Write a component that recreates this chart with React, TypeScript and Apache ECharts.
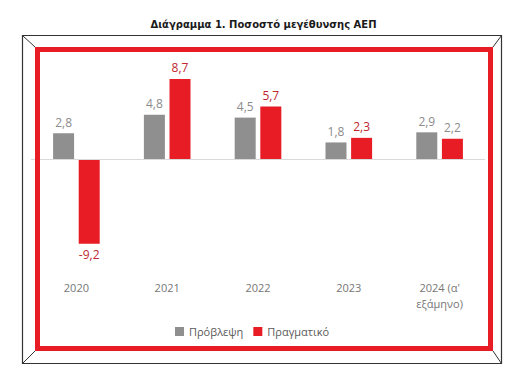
import React, { useEffect, useRef } from "react";
import * as echarts from "echarts";

const categories = ["2020", "2021", "2022", "2023", "2024 (α'\nεξάμηνο)"];
const forecast = [2.8, 4.8, 4.5, 1.8, 2.9];
const actual = [-9.2, 8.7, 5.7, 2.3, 2.2];
const actualLabelColors = ["#c0262d", "#c0262d", "#c0262d", "#c0262d", "#8c8c8c"];
const seriesNames = ["Πρόβλεψη", "Πραγματικό"];
const titleText = "Διάγραμμα 1. Ποσοστό μεγέθυνσης ΑΕΠ";

const fmt = (v: number) => String(v).replace(".", ",");

export default function App() {
  const ref = useRef<HTMLDivElement>(null);
  useEffect(() => {
    if (!ref.current) return;
    const chart = echarts.init(ref.current, null, { renderer: "svg" });
    const font = "'Open Sans', 'Noto Sans', sans-serif";
    chart.setOption({
      animation: false,
      backgroundColor: "#ffffff",
      title: {
        text: titleText,
        left: "center",
        top: 14,
        textStyle: { fontFamily: "'DejaVu Sans', sans-serif", fontWeight: "bold", fontSize: 10, color: "#1a1a1a" },
      },
      legend: {
        data: seriesNames,
        left: 170,
        top: 321,
        itemWidth: 9,
        itemHeight: 9,
        itemGap: 10,
        icon: "rect",
        textStyle: { fontFamily: font, fontSize: 11, color: "#595959" },
      },
      grid: { left: 31, right: 42, top: 67, bottom: 125, containLabel: false },
      xAxis: {
        type: "category",
        data: categories,
        axisLine: { show: false, onZero: false },
        axisTick: { show: false },
        axisLabel: { margin: 28, fontFamily: font, fontSize: 11, color: "#767676", lineHeight: 16 },
      },
      yAxis: {
        type: "value",
        min: -10,
        max: 10,
        show: false,
        splitLine: { show: false },
      },
      series: [
        {
          name: seriesNames[0],
          type: "bar",
          data: forecast,
          barWidth: 21,
          barGap: "22%",
          itemStyle: { color: "#8f8f8f" },
          label: {
            show: true,
            position: "top",
            distance: 5,
            fontFamily: font,
            fontSize: 12,
            color: "#8c8c8c",
            formatter: (p: any) => fmt(p.value),
          },
          markLine: {
            silent: true,
            symbol: "none",
            label: { show: false },
            lineStyle: { color: "#d9d9d9", type: "solid", width: 1 },
            data: [{ yAxis: 0 }],
          },
        },
        {
          name: seriesNames[1],
          type: "bar",
          data: actual.map((v, i) => ({
            value: v,
            label: { position: v < 0 ? "bottom" : "top", color: actualLabelColors[i] },
          })),
          barWidth: 21,
          itemStyle: { color: "#e81c24" },
          label: {
            show: true,
            distance: 5,
            fontFamily: font,
            fontSize: 12,
            formatter: (p: any) => fmt(p.value),
          },
        },
      ],
      graphic: [
        {
          type: "rect",
          z: 100,
          shape: { x: 22.5, y: 35.5, width: 479, height: 328 },
          style: { fill: "none", stroke: "#333333", lineWidth: 1.2 },
        },
        {
          type: "rect",
          z: 101,
          shape: { x: 37.5, y: 49.5, width: 453, height: 299 },
          style: { fill: "none", stroke: "#e81c24", lineWidth: 5 },
        },
        { type: "line", z: 100, shape: { x1: 22.5, y1: 35.5, x2: 35, y2: 47 }, style: { stroke: "#333333", lineWidth: 1 } },
        { type: "line", z: 100, shape: { x1: 501.5, y1: 35.5, x2: 493, y2: 47 }, style: { stroke: "#333333", lineWidth: 1 } },
        { type: "line", z: 100, shape: { x1: 22.5, y1: 363.5, x2: 35, y2: 351 }, style: { stroke: "#333333", lineWidth: 1 } },
        { type: "line", z: 100, shape: { x1: 501.5, y1: 363.5, x2: 493, y2: 351 }, style: { stroke: "#333333", lineWidth: 1 } },
      ],
    });
    return () => chart.dispose();
  }, []);
  return <div ref={ref} style={{ position: "absolute", left: 0, top: 0, width: 527, height: 376 }} />;
}
